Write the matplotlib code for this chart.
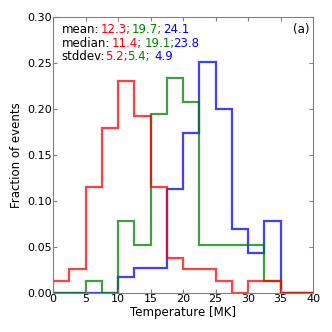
import matplotlib
matplotlib.use('Agg')
import matplotlib.pyplot as plt
import numpy as np

# temperature bins [MK]
edges = np.arange(0, 40.1, 2.5)

# fraction of events per bin, three samples
red_counts = np.array([1, 2, 9, 14, 18, 15, 9, 3, 2, 2, 1, 0, 1, 1, 0, 0])
green_counts = np.array([0, 0, 1, 0, 6, 4, 15, 18, 16, 4, 4, 4, 4, 1, 0, 0])
red_frac = red_counts / red_counts.sum()
green_frac = green_counts / green_counts.sum()
blue_frac = np.array([0, 0, 0, 0, 0.0178, 0.0268, 0.0268, 0.113,
                      0.1735, 0.2514, 0.200, 0.069, 0.0438, 0.078, 0, 0])

# stats text: (label, values, x positions in axes fraction)
rows = [
    ("mean:", ["12.3;", "19.7;", "24.1"], [0.033, 0.181, 0.303, 0.422]),
    ("median:", ["11.4;", "19.1;", "23.8"], [0.033, 0.224, 0.351, 0.461]),
    ("stddev:", ["5.2;", "5.4;", "4.9"], [0.033, 0.200, 0.286, 0.388]),
]
colors = ["red", "green", "blue"]

plt.rcParams['font.size'] = 8
fig = plt.figure(figsize=(3.32, 3.32), dpi=100)
ax = fig.add_axes([0.16, 0.1175, 0.783, 0.8315])

ax.stairs(blue_frac, edges, color="blue", lw=1.6, alpha=0.75)
ax.stairs(green_frac, edges, color="green", lw=1.6, alpha=0.75)
ax.stairs(red_frac, edges, color="red", lw=1.6, alpha=0.75)

ax.set_xlim(0, 40)
ax.set_ylim(0, 0.30)
ax.set_xticks(np.arange(0, 41, 5))
ax.set_yticks(np.arange(0, 0.31, 0.05))
ax.yaxis.set_major_formatter(matplotlib.ticker.FormatStrFormatter('%.2f'))
ax.tick_params(direction='in', top=True, right=True, length=3,
               color='#808080', labelsize=8, pad=1)
for s in ax.spines.values():
    s.set_color('#808080')

ax.set_xlabel("Temperature [MK]", fontsize=8.5, labelpad=1)
ax.set_ylabel("Fraction of events", fontsize=8.5, labelpad=3)

for i, (label, vals, xs) in enumerate(rows):
    y = 0.977 - i * 0.049
    ax.text(xs[0], y, label, transform=ax.transAxes, va='top', fontsize=8.5)
    for v, c, x in zip(vals, colors, xs[1:]):
        ax.text(x, y, v, transform=ax.transAxes, va='top', color=c,
                fontsize=8.5)
ax.text(0.985, 0.977, "(a)", transform=ax.transAxes, va='top', ha='right',
        fontsize=8.5)

fig.savefig("out.png", dpi=100)
